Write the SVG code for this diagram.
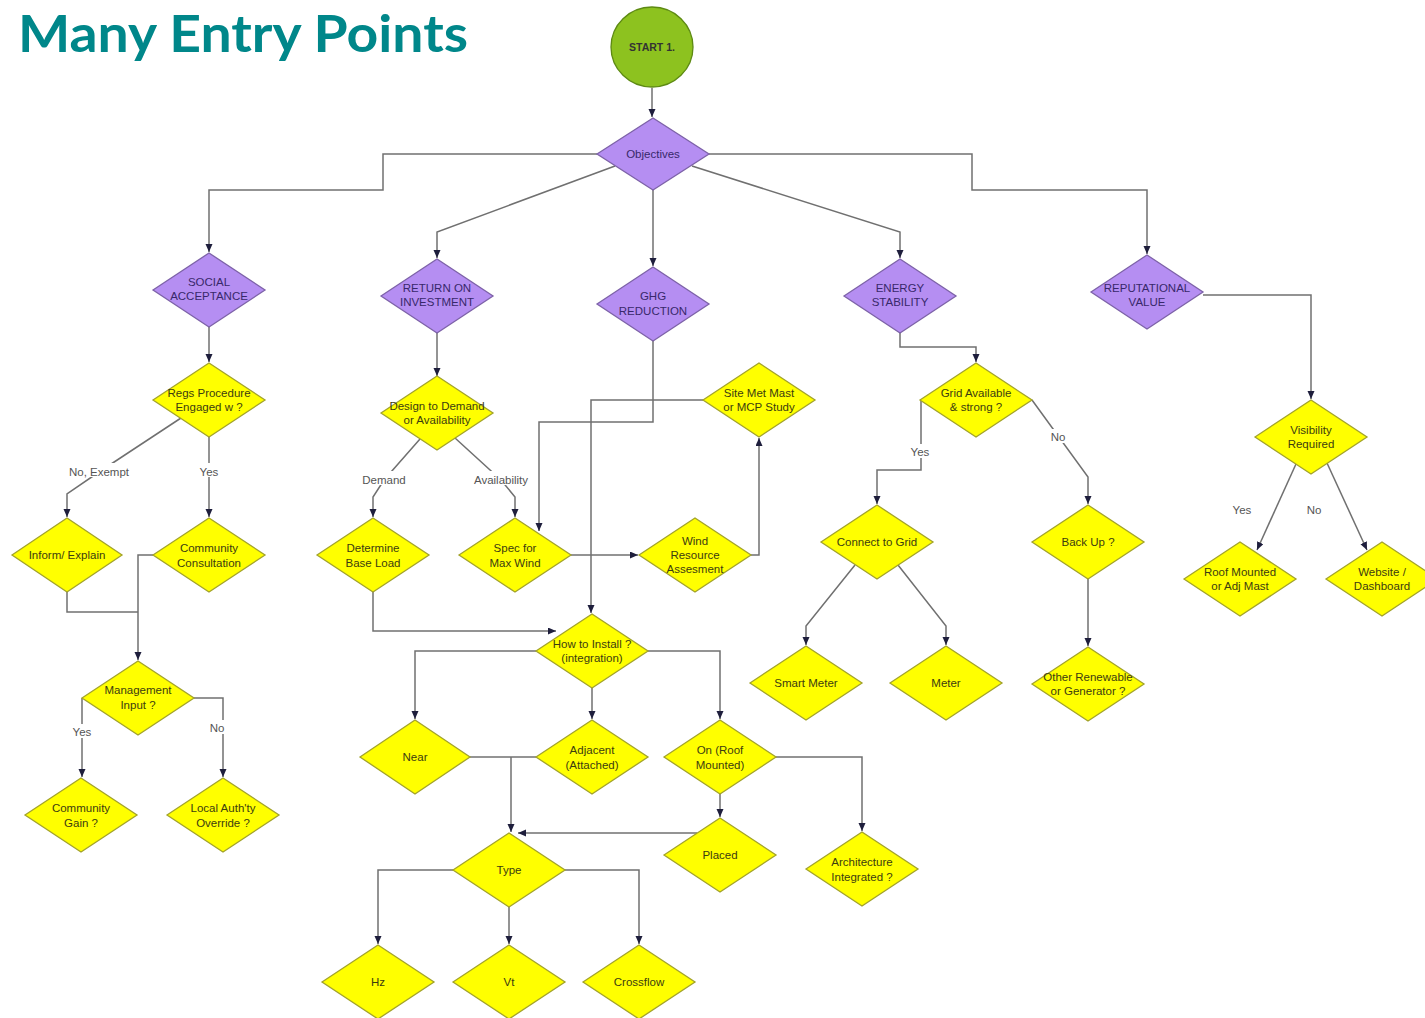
<svg xmlns="http://www.w3.org/2000/svg" width="1425" height="1018" viewBox="0 0 1425 1018">
<style>
.y{fill:#ffff00;stroke:#a3a32a;stroke-width:1.3}
.p{fill:#b58ef2;stroke:#7d62a8;stroke-width:1.3}
.t{font-family:"Liberation Sans",Arial,sans-serif;font-size:11.5px;text-anchor:middle;fill:#3c3c10}
.pt{font-family:"Liberation Sans",Arial,sans-serif;font-size:11.5px;text-anchor:middle;fill:#38286a}
.c{fill:none;stroke:#707070;stroke-width:1.5;marker-end:url(#ah)}
.cn{fill:none;stroke:#707070;stroke-width:1.5}
.lb{font-family:"Liberation Sans",Arial,sans-serif;font-size:11.5px;text-anchor:middle;fill:#555}
.bg{fill:#ffffff}
</style>
<defs>
<marker id="ah" markerUnits="userSpaceOnUse" markerWidth="9" markerHeight="8" refX="8" refY="3.5" orient="auto">
<path d="M0,0 L8,3.5 L0,7 z" fill="#1e1e3c"/>
</marker>
</defs>
<rect width="1425" height="1018" fill="#ffffff"/>
<text x="18" y="52" font-family="Lato,'Open Sans',sans-serif" font-weight="700" font-size="52" fill="#00878a" textLength="450" lengthAdjust="spacingAndGlyphs">Many Entry Points</text>

<g id="connectors">
<path class="c" d="M652,88 V117"/>
<path class="c" d="M597,154 H383 V190 H209 V252"/>
<path class="c" d="M615,166 L437,232 V258"/>
<path class="c" d="M653,190 V266"/>
<path class="c" d="M692,166 L900,232 V258"/>
<path class="c" d="M709,154 H972 V190 H1147 V254"/>
<path class="c" d="M209,327 V362"/>
<path class="c" d="M181,418 L99,472 L67,494 V517"/>
<path class="c" d="M209,437 V517"/>
<path class="cn" d="M67,592 V612 H138"/>
<path class="c" d="M153,555 H138 V660"/>
<path class="c" d="M82,698 V777"/>
<path class="c" d="M194,698 H223 V777"/>
<path class="c" d="M437,333 V376"/>
<path class="c" d="M420,439 L384,480 L373,497 V517"/>
<path class="c" d="M455,438 L501,480 L515,497 V517"/>
<path class="c" d="M373,592 V631 H556"/>
<path class="c" d="M571,555 H638"/>
<path class="c" d="M751,555 H759 V438"/>
<path class="c" d="M703,400 H591 V613"/>
<path class="c" d="M653,341 V422 H539 V531"/>
<path class="c" d="M536,651 H415 V719"/>
<path class="c" d="M592,688 V719"/>
<path class="c" d="M648,651 H720 V719"/>
<path class="cn" d="M470,757 H536"/>
<path class="c" d="M511,757 V832"/>
<path class="c" d="M720,794 V817"/>
<path class="c" d="M776,757 H862 V831"/>
<path class="c" d="M697,833 H518"/>
<path class="c" d="M453,870 H378 V944"/>
<path class="c" d="M509,907 V944"/>
<path class="c" d="M565,870 H639 V944"/>
<path class="c" d="M900,333 V347 H976 V362"/>
<path class="c" d="M921,400 V470 H877 V504"/>
<path class="c" d="M1032,400 L1088,477 V504"/>
<path class="c" d="M855,565 L806,626 V645"/>
<path class="c" d="M898,565 L946,626 V645"/>
<path class="c" d="M1088,579 V646"/>
<path class="c" d="M1203,295 H1311 V399"/>
<path class="c" d="M1296,464 L1257,550"/>
<path class="c" d="M1327,463 L1367,550"/>
<g id="labels">
<rect class="bg" x="66" y="463" width="67" height="14"/><text class="lb" x="99" y="476">No, Exempt</text>
<rect class="bg" x="198" y="463" width="22" height="14"/><text class="lb" x="209" y="476">Yes</text>
<rect class="bg" x="71" y="724" width="22" height="14"/><text class="lb" x="82" y="736">Yes</text>
<rect class="bg" x="210" y="720" width="16" height="14"/><text class="lb" x="217" y="732">No</text>
<rect class="bg" x="361" y="471" width="46" height="14"/><text class="lb" x="384" y="484">Demand</text>
<rect class="bg" x="472" y="471" width="58" height="14"/><text class="lb" x="501" y="484">Availability</text>
<rect class="bg" x="910" y="444" width="22" height="14"/><text class="lb" x="920" y="456">Yes</text>
<rect class="bg" x="1050" y="429" width="16" height="14"/><text class="lb" x="1058" y="441">No</text>
<text class="lb" x="1242" y="514">Yes</text>
<text class="lb" x="1314" y="514">No</text>
</g>
</g>

<g id="start"><ellipse cx="652" cy="47" rx="41" ry="40" fill="#8dc21f" stroke="#5d8a12" stroke-width="1.3"/><text class="t" x="652" y="51" style="fill:#333;font-size:10.5px;font-weight:bold">START 1.</text></g>
<g id="objectives"><polygon class="p" points="597,154 653,118 709,154 653,190"/><text class="pt" x="653" y="158">Objectives</text></g>
<g id="social"><polygon class="p" points="153,290 209,253 265,290 209,327"/><text class="pt" x="209" y="286">SOCIAL</text><text class="pt" x="209" y="300">ACCEPTANCE</text></g>
<g id="roi"><polygon class="p" points="381,296 437,259 493,296 437,333"/><text class="pt" x="437" y="292">RETURN ON</text><text class="pt" x="437" y="306">INVESTMENT</text></g>
<g id="ghg"><polygon class="p" points="597,304 653,267 709,304 653,341"/><text class="pt" x="653" y="300">GHG</text><text class="pt" x="653" y="315">REDUCTION</text></g>
<g id="energy"><polygon class="p" points="844,296 900,259 956,296 900,333"/><text class="pt" x="900" y="292">ENERGY</text><text class="pt" x="900" y="306">STABILITY</text></g>
<g id="reputational"><polygon class="p" points="1091,292 1147,255 1203,292 1147,329"/><text class="pt" x="1147" y="292">REPUTATIONAL</text><text class="pt" x="1147" y="306">VALUE</text></g>

<g id="regs"><polygon class="y" points="153,400 209,363 265,400 209,437"/><text class="t" x="209" y="397">Regs Procedure</text><text class="t" x="209" y="411">Engaged w ?</text></g>
<g id="inform"><polygon class="y" points="12,555 67,518 122,555 67,592"/><text class="t" x="67" y="559">Inform/ Explain</text></g>
<g id="commcons"><polygon class="y" points="153,555 209,518 265,555 209,592"/><text class="t" x="209" y="552">Community</text><text class="t" x="209" y="567">Consultation</text></g>
<g id="mgmt"><polygon class="y" points="82,698 138,661 194,698 138,735"/><text class="t" x="138" y="694">Management</text><text class="t" x="138" y="709">Input ?</text></g>
<g id="commgain"><polygon class="y" points="25,815 81,778 137,815 81,852"/><text class="t" x="81" y="812">Community</text><text class="t" x="81" y="827">Gain ?</text></g>
<g id="local"><polygon class="y" points="167,815 223,778 279,815 223,852"/><text class="t" x="223" y="812">Local Auth'ty</text><text class="t" x="223" y="827">Override ?</text></g>

<g id="design"><polygon class="y" points="381,413 437,376 493,413 437,450"/><text class="t" x="437" y="410">Design to Demand</text><text class="t" x="437" y="424">or Availability</text></g>
<g id="determine"><polygon class="y" points="317,555 373,518 429,555 373,592"/><text class="t" x="373" y="552">Determine</text><text class="t" x="373" y="567">Base Load</text></g>
<g id="spec"><polygon class="y" points="459,555 515,518 571,555 515,592"/><text class="t" x="515" y="552">Spec for</text><text class="t" x="515" y="567">Max Wind</text></g>
<g id="wind"><polygon class="y" points="639,555 695,518 751,555 695,592"/><text class="t" x="695" y="545">Wind</text><text class="t" x="695" y="559">Resource</text><text class="t" x="695" y="573">Assesment</text></g>
<g id="site"><polygon class="y" points="703,400 759,363 815,400 759,437"/><text class="t" x="759" y="397">Site Met Mast</text><text class="t" x="759" y="411">or MCP Study</text></g>
<g id="how"><polygon class="y" points="536,651 592,614 648,651 592,688"/><text class="t" x="592" y="648">How to Install ?</text><text class="t" x="592" y="662">(integration)</text></g>
<g id="near"><polygon class="y" points="360,757 415,720 470,757 415,794"/><text class="t" x="415" y="761">Near</text></g>
<g id="adjacent"><polygon class="y" points="536,757 592,720 648,757 592,794"/><text class="t" x="592" y="754">Adjacent</text><text class="t" x="592" y="769">(Attached)</text></g>
<g id="on"><polygon class="y" points="664,757 720,720 776,757 720,794"/><text class="t" x="720" y="754">On (Roof</text><text class="t" x="720" y="769">Mounted)</text></g>
<g id="placed"><polygon class="y" points="664,855 720,818 776,855 720,892"/><text class="t" x="720" y="859">Placed</text></g>
<g id="arch"><polygon class="y" points="806,869 862,832 918,869 862,906"/><text class="t" x="862" y="866">Architecture</text><text class="t" x="862" y="881">Integrated ?</text></g>
<g id="type"><polygon class="y" points="453,870 509,833 565,870 509,907"/><text class="t" x="509" y="874">Type</text></g>
<g id="hz"><polygon class="y" points="322,982 378,945 434,982 378,1019"/><text class="t" x="378" y="986">Hz</text></g>
<g id="vt"><polygon class="y" points="453,982 509,945 565,982 509,1019"/><text class="t" x="509" y="986">Vt</text></g>
<g id="crossflow"><polygon class="y" points="583,982 639,945 695,982 639,1019"/><text class="t" x="639" y="986">Crossflow</text></g>

<g id="grid"><polygon class="y" points="920,400 976,363 1032,400 976,437"/><text class="t" x="976" y="397">Grid Available</text><text class="t" x="976" y="411">&amp; strong ?</text></g>
<g id="connect"><polygon class="y" points="821,542 877,505 933,542 877,579"/><text class="t" x="877" y="546">Connect to Grid</text></g>
<g id="backup"><polygon class="y" points="1032,542 1088,505 1144,542 1088,579"/><text class="t" x="1088" y="546">Back Up ?</text></g>
<g id="smart"><polygon class="y" points="750,683 806,646 862,683 806,720"/><text class="t" x="806" y="687">Smart Meter</text></g>
<g id="meter"><polygon class="y" points="890,683 946,646 1002,683 946,720"/><text class="t" x="946" y="687">Meter</text></g>
<g id="other"><polygon class="y" points="1032,684 1088,647 1144,684 1088,721"/><text class="t" x="1088" y="681">Other Renewable</text><text class="t" x="1088" y="695">or Generator ?</text></g>

<g id="visibility"><polygon class="y" points="1255,437 1311,400 1367,437 1311,474"/><text class="t" x="1311" y="434">Visibility</text><text class="t" x="1311" y="448">Required</text></g>
<g id="roof"><polygon class="y" points="1184,579 1240,542 1296,579 1240,616"/><text class="t" x="1240" y="576">Roof Mounted</text><text class="t" x="1240" y="590">or Adj Mast</text></g>
<g id="website"><polygon class="y" points="1326,579 1382,542 1438,579 1382,616"/><text class="t" x="1382" y="576">Website /</text><text class="t" x="1382" y="590">Dashboard</text></g>
</svg>
